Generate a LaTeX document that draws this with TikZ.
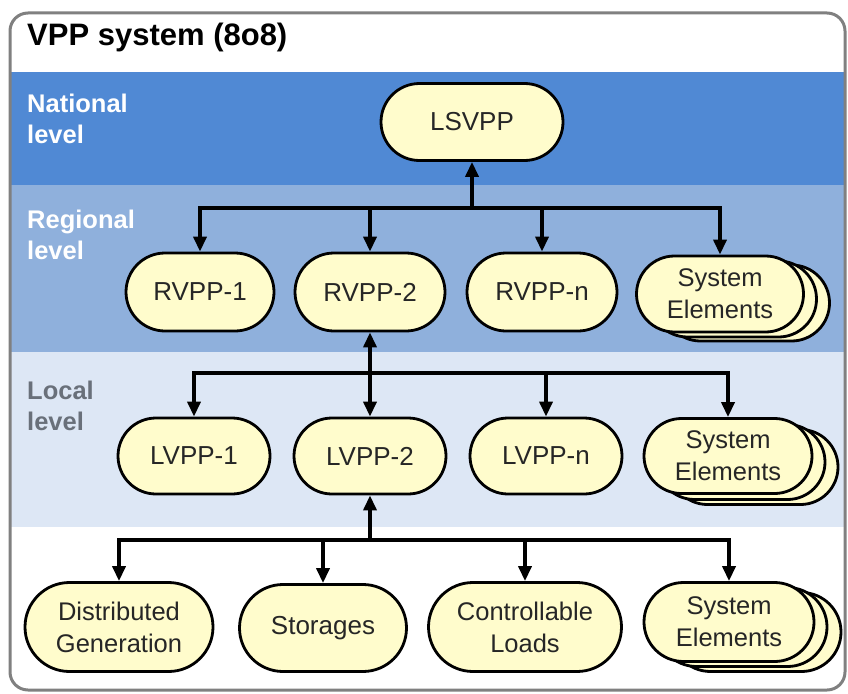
\documentclass[tikz,border=0pt]{standalone}
\usepackage{fontspec}
\setmainfont{Liberation Sans}
\usepackage[table]{xcolor}
\usepackage{tikz}
\usetikzlibrary{shapes.misc,arrows.meta}

\definecolor{natblue}{RGB}{80,137,212}
\definecolor{regblue}{RGB}{143,176,220}
\definecolor{locblue}{RGB}{221,231,245}
\definecolor{vppfill}{RGB}{255,252,204}
\definecolor{framegray}{RGB}{128,128,128}
\definecolor{localgray}{RGB}{105,112,122}

\tikzset{
  vpp/.style={draw=black, line width=2.8pt, fill=vppfill, rounded rectangle, inner sep=0pt,
              text=black!85, align=center, font=\fontsize{26}{30}\selectfont},
  vppse/.style={vpp, font=\fontsize{25.5}{32}\selectfont},
  link/.style={line width=3.5pt, -{Triangle[length=15pt,width=13pt]}},
  lvl/.style={anchor=north west, inner sep=0pt, align=left, font=\bfseries\fontsize{25.5}{31}\selectfont}
}

\begin{document}
\begin{tikzpicture}[x=1pt,y=-1pt]
        \useasboundingbox (0,0) rectangle (848,693);
        \fill [white]    (10,13)  rectangle (845,690);              %
        \fill [natblue]  (10,72)  rectangle (845,185);              %national
        \fill [regblue]  (10,185) rectangle (845,352);              %regional
        \fill [locblue]  (10,352) rectangle (845,527);              %local
        \draw [framegray, line width=3pt, rounded corners=18pt] (10,13) rectangle (845,690);
        \node [anchor=north west, inner sep=0pt, font=\bfseries\fontsize{31}{36}\selectfont] (title) at (27,23) {VPP system (8o8)};
        \node [lvl, text=white]     (natlbl) at (27,94)  {National\\level};
        \node [lvl, text=white]     (reglbl) at (27,210) {Regional\\level};
        \node [lvl, text=localgray] (loclbl) at (27,381) {Local\\level};
        %national
        \node [vpp, minimum width=182pt, minimum height=77pt] (lsvpp) at (472,122) {LSVPP};
        %regional
        \node [vpp, minimum width=148pt, minimum height=78pt] (rvpp1) at (200,292) {RVPP-1};
        \node [vpp, minimum width=150pt, minimum height=78pt] (rvpp2) at (370,292) {RVPP-2};
        \node [vpp, minimum width=150pt, minimum height=78pt] (rvppn) at (542,292) {RVPP-n};
        \node [vppse, minimum width=167pt, minimum height=76pt] (seR2) at (746,303) {};
        \node [vppse, minimum width=167pt, minimum height=76pt] (seR1) at (733,299) {};
        \node [vppse, minimum width=167pt, minimum height=76pt] (seR)  at (720,294) {System\\Elements};
        %local
        \node [vpp, minimum width=152pt, minimum height=76pt] (lvpp1) at (194,456) {LVPP-1};
        \node [vpp, minimum width=152pt, minimum height=76pt] (lvpp2) at (370,456) {LVPP-2};
        \node [vpp, minimum width=152pt, minimum height=76pt] (lvppn) at (546,456) {LVPP-n};
        \node [vppse, minimum width=168pt, minimum height=75pt] (seL2) at (754,467) {};
        \node [vppse, minimum width=168pt, minimum height=75pt] (seL1) at (741,462) {};
        \node [vppse, minimum width=168pt, minimum height=75pt] (seL)  at (728,456) {System\\Elements};
        %units
        \node [vppse, minimum width=188pt, minimum height=89pt] (dgen)  at (119,627) {Distributed\\Generation};
        \node [vpp,   minimum width=167pt, minimum height=87pt] (stor)  at (323,628) {Storages};
        \node [vppse, minimum width=193pt, minimum height=89pt] (cload) at (525,627) {Controllable\\Loads};
        \node [vppse, minimum width=170pt, minimum height=79pt] (seB2) at (756,632) {};
        \node [vppse, minimum width=170pt, minimum height=79pt] (seB1) at (742,627) {};
        \node [vppse, minimum width=170pt, minimum height=79pt] (seB)  at (729,622) {System\\Elements};
        %connectors
        \coordinate (busR) at (472,208);
        \coordinate (busL) at (370,373);
        \coordinate (busB) at (370,540);
        \draw [link] (busR) -- (lsvpp);
        \foreach \n in {rvpp1,rvpp2,rvppn,seR} \draw [link] (busR) -| (\n);
        \draw [link] (busL) -- (rvpp2);
        \foreach \n in {lvpp1,lvpp2,lvppn,seL} \draw [link] (busL) -| (\n);
        \draw [link] (busB) -- (lvpp2);
        \foreach \n in {dgen,stor,cload,seB} \draw [link] (busB) -| (\n);
\end{tikzpicture}
\end{document}
